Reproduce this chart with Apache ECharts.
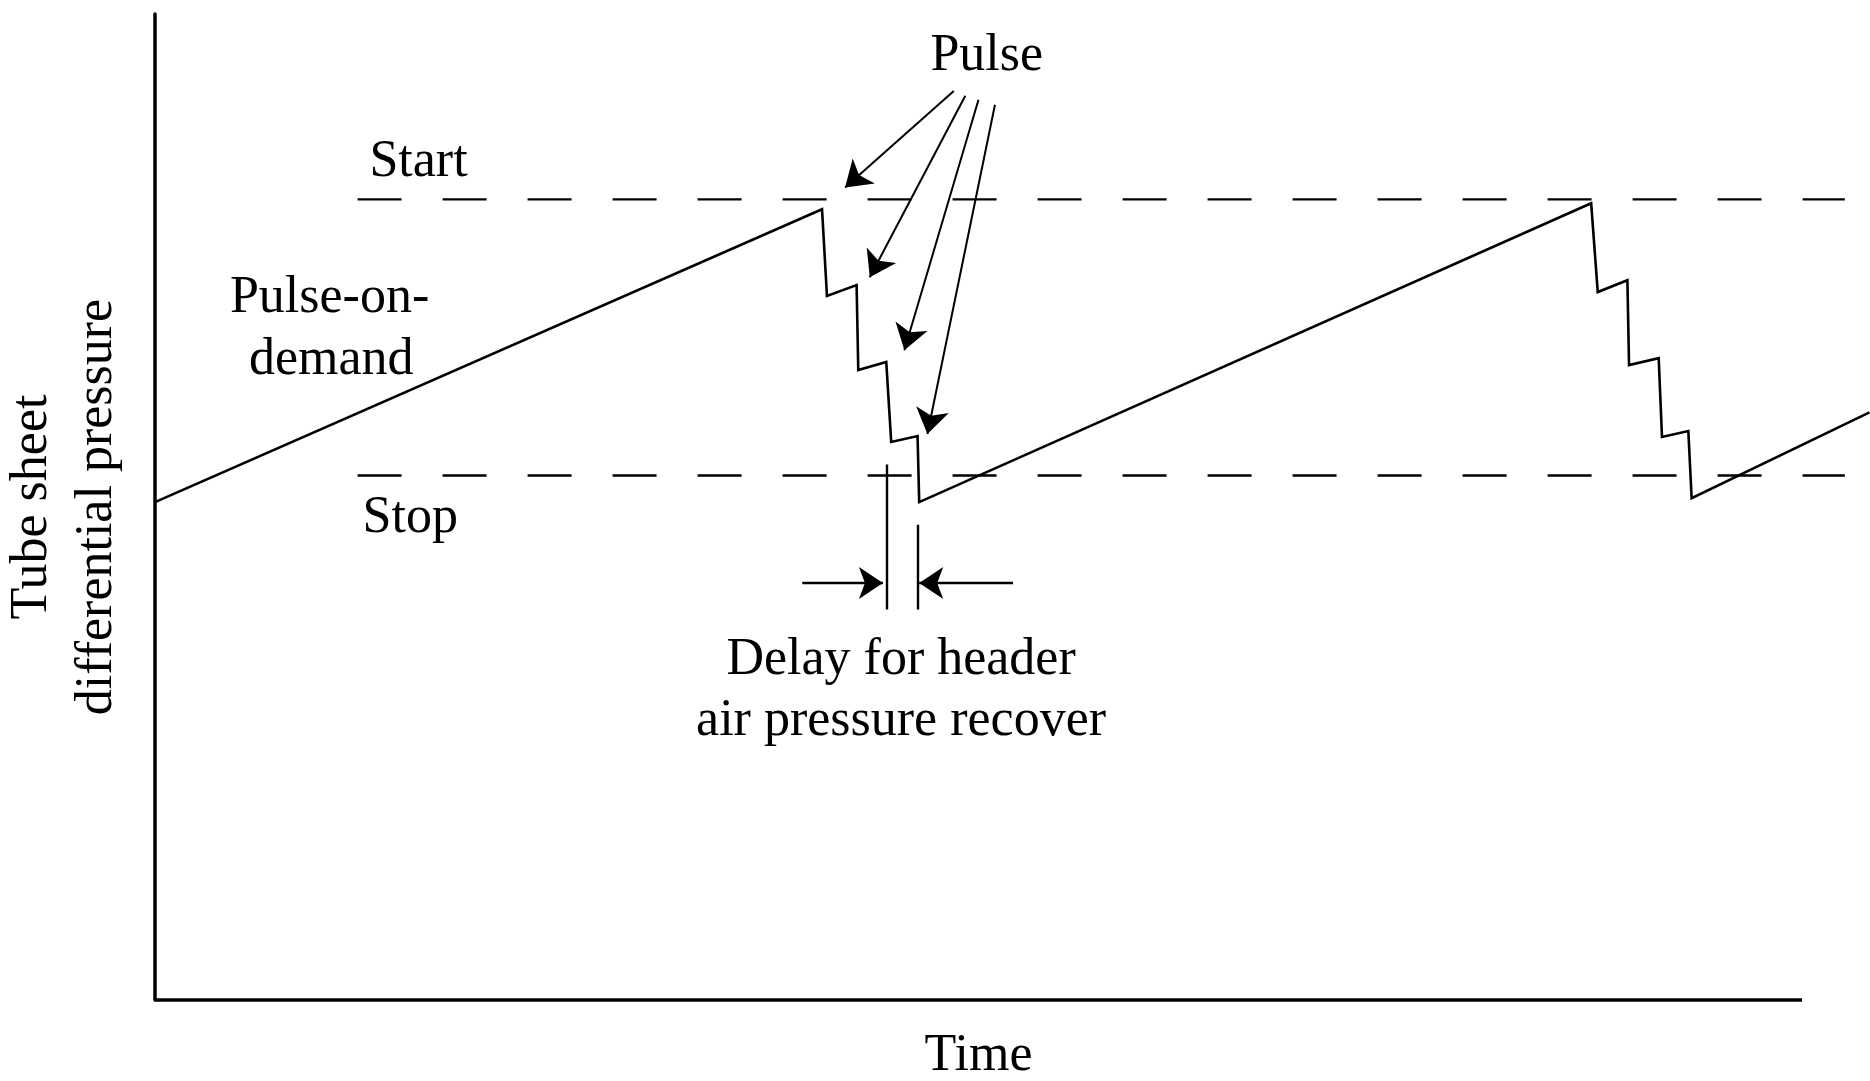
<!DOCTYPE html>
<html>
<head>
<meta charset="utf-8">
<title>Pulse-on-demand cleaning</title>
<script src="https://cdn.jsdelivr.net/npm/echarts@6/dist/echarts.min.js"></script>
<style>
  html, body { margin: 0; padding: 0; background: #fff; }
  #chart { width: 1870px; height: 1081px; }
</style>
</head>
<body>
<div id="chart"></div>
<script>
// pressure trace (time / pressure in arbitrary units)
const traceTime = [0, 40.5, 40.8, 42.6, 42.7, 44.4, 44.7, 46.3, 46.4, 87.2, 87.6, 89.4, 89.5, 91.3, 91.5, 93.1, 93.3, 104.1];
const tracePressure = [50.5, 80.2, 71.4, 72.5, 63.9, 64.7, 56.6, 57.2, 50.5, 80.8, 71.8, 73.0, 64.4, 65.1, 57.1, 57.7, 50.9, 59.6];

// time axis: drawn part of the axis, and the right edge of the figure
const timeAxisSpan = [0, 100];
const timeMax = 104.13;

// start / stop set points (dashed)
const thresholdLevels = [81.2, 53.2];
const thresholdSpan = [12.3, 102.6];

// "Pulse" arrows, label -> each step
const pulseFromX = [48.5, 49.2, 50.0, 51.0];
const pulseFromY = [92.2, 91.7, 91.3, 90.8];
const pulseToX = [41.9, 43.4, 45.5, 46.9];
const pulseToY = [82.4, 73.3, 65.9, 57.4];

// delay marker
const delayEdges = [44.4, 46.3];
const delayTop = [54.3, 48.2];
const delayBottom = 39.6;
const delayArrowY = 42.3;
const delayArrowFrom = [39.3, 52.1];
const delayArrowTo = [44.2, 46.4];

// annotations
const noteTexts = ['Pulse', 'Start', 'Pulse-on-', 'demand', 'Stop', 'Delay for header', 'air pressure recover'];
const noteX = [50.5, 16.0, 10.6, 10.7, 15.5, 45.3, 45.3];
const noteY = [95.7, 85.0, 71.2, 64.9, 48.9, 34.4, 28.3];

const FONT = "'Liberation Serif', 'DejaVu Serif', serif";
const INK = '#000';

const chart = echarts.init(document.getElementById('chart'));

const option = {
  animation: false,
  backgroundColor: '#fff',
  grid: { left: 155, right: 0, top: 14, bottom: 81, outerBoundsMode: 'none' },
  xAxis: {
    type: 'value',
    min: 0,
    max: timeMax,
    name: 'Time',
    nameLocation: 'middle',
    nameGap: 30,
    nameTextStyle: { fontFamily: FONT, fontSize: 52, color: INK, padding: [0, 68, 0, 0] },
    axisLine: { show: false },
    axisTick: { show: false },
    axisLabel: { show: false },
    splitLine: { show: false }
  },
  yAxis: {
    type: 'value',
    min: 0,
    max: 100,
    name: 'Tube sheet\ndifferential pressure',
    nameLocation: 'middle',
    nameGap: 25,
    nameTextStyle: { fontFamily: FONT, fontSize: 52, color: INK, lineHeight: 65 },
    axisLine: { show: true, onZero: false, lineStyle: { color: '#000', width: 3.5 } },
    axisTick: { show: false },
    axisLabel: { show: false },
    splitLine: { show: false }
  },
  series: [
    {
      name: 'time axis',
      type: 'line',
      clip: false,
      symbol: 'none',
      lineStyle: { color: '#000', width: 3.5 },
      data: timeAxisSpan.map((t) => [t, 0])
    },
    {
      name: 'trace',
      type: 'line',
      clip: false,
      symbol: 'none',
      lineStyle: { color: '#000', width: 2.6, join: 'miter' },
      data: traceTime.map((t, i) => [t, tracePressure[i]])
    },
    ...thresholdLevels.map((lv) => ({
      type: 'line',
      clip: false,
      symbol: 'none',
      lineStyle: { color: '#000', width: 2.4, type: [44, 41] },
      data: [[thresholdSpan[0], lv], [thresholdSpan[1], lv]]
    })),
    {
      name: 'pulse arrows',
      type: 'lines',
      coordinateSystem: 'cartesian2d',
      symbol: ['none', 'arrow'],
      symbolSize: 25,
      lineStyle: { color: '#000', width: 2, opacity: 1 },
      data: pulseFromX.map((x, i) => ({ coords: [[x, pulseFromY[i]], [pulseToX[i], pulseToY[i]]] }))
    },
    {
      name: 'delay edges',
      type: 'lines',
      coordinateSystem: 'cartesian2d',
      symbol: 'none',
      lineStyle: { color: '#000', width: 2.4, opacity: 1 },
      data: delayEdges.map((x, i) => ({ coords: [[x, delayTop[i]], [x, delayBottom]] }))
    },
    {
      name: 'delay arrows',
      type: 'lines',
      coordinateSystem: 'cartesian2d',
      symbol: ['none', 'arrow'],
      symbolSize: 24,
      lineStyle: { color: '#000', width: 2.4, opacity: 1 },
      data: delayArrowFrom.map((x, i) => ({ coords: [[x, delayArrowY], [delayArrowTo[i], delayArrowY]] }))
    },
    {
      name: 'notes',
      type: 'scatter',
      silent: true,
      symbolSize: 0,
      itemStyle: { opacity: 1 },
      label: {
        show: true,
        position: 'inside',
        formatter: '{b}',
        fontFamily: FONT,
        fontSize: 52,
        color: INK,
        opacity: 1,
        textBorderWidth: 0
      },
      data: noteTexts.map((txt, i) => ({ name: txt, value: [noteX[i], noteY[i]] }))
    }
  ]
};

chart.setOption(option);
</script>
</body>
</html>
